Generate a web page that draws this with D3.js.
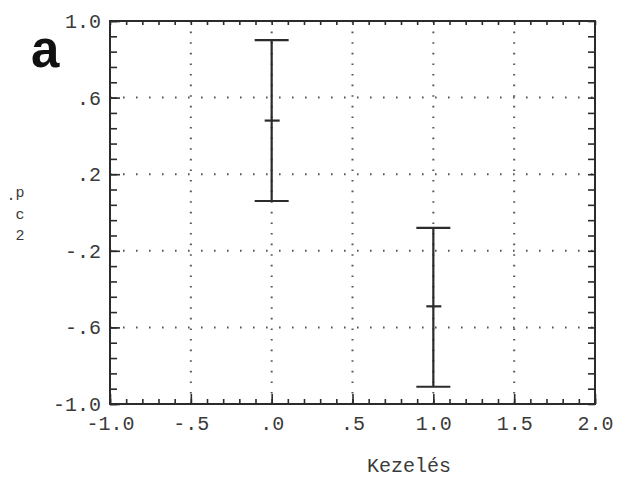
<!DOCTYPE html>
<html>
<head>
<meta charset="utf-8">
<script src="https://cdn.jsdelivr.net/npm/d3@7"></script>
<style>
  body { margin: 0; background: #fff; }
  .tick text { font-family: "Liberation Mono", "DejaVu Sans Mono", monospace; font-size: 20px; fill: #3a3a3a; }
</style>
</head>
<body>
<div id="chart"></div>
<script>
// error bar chart, panel a
var svgWidth = 622;
var svgHeight = 483;

var margin = { top: 21, right: 27, bottom: 79, left: 110 };
var width = svgWidth - margin.left - margin.right;
var height = svgHeight - margin.top - margin.bottom;

// data
var groups = [0, 1];
var means = [0.48, -0.49];
var upper = [0.90, -0.08];
var lower = [0.06, -0.91];

var xTicks = [-1.0, -0.5, 0.0, 0.5, 1.0, 1.5, 2.0];
var xTickLabels = ["-1.0", "-.5", ".0", ".5", "1.0", "1.5", "2.0"];
var yTicks = [1.0, 0.6, 0.2, -0.2, -0.6, -1.0];
var yTickLabels = ["1.0", ".6", ".2", "-.2", "-.6", "-1.0"];

var ink = "#2b2b2b";

var svg = d3.select("#chart")
  .append("svg")
  .attr("width", svgWidth)
  .attr("height", svgHeight);

var chartGroup = svg.append("g")
  .attr("transform", `translate(${margin.left}, ${margin.top})`);

var x = d3.scaleLinear().domain([-1, 2]).range([0, width]);
var y = d3.scaleLinear().domain([-1, 1]).range([height, 0]);

// dotted grid
var gridGroup = chartGroup.append("g");
gridGroup.selectAll("line.hgrid")
  .data(yTicks.filter(d => d > -1 && d < 1))
  .join("line")
  .attr("x1", 0).attr("x2", width)
  .attr("y1", d => y(d)).attr("y2", d => y(d))
  .attr("stroke", "#555")
  .attr("stroke-width", 2)
  .attr("stroke-dasharray", "1.6,11.4");

gridGroup.selectAll("line.vgrid")
  .data(xTicks.filter(d => d > -1 && d < 2))
  .join("line")
  .attr("x1", d => x(d)).attr("x2", d => x(d))
  .attr("y1", 0).attr("y2", height)
  .attr("stroke", "#555")
  .attr("stroke-width", 2)
  .attr("stroke-dasharray", "1.6,9");

// minor ticks
var xMinor = d3.range(-1, 2.001, 0.1);
var yMinor = d3.range(-1, 1.001, 0.08);

function minorAxis(axis, vals, size) {
  return axis.tickValues(vals).tickSize(size).tickFormat("");
}

chartGroup.append("g")
  .attr("transform", `translate(0, ${height})`)
  .call(minorAxis(d3.axisBottom(x), xMinor, -5));
chartGroup.append("g")
  .call(minorAxis(d3.axisTop(x), xMinor, -4));
chartGroup.append("g")
  .call(minorAxis(d3.axisLeft(y), yMinor, -7));
chartGroup.append("g")
  .attr("transform", `translate(${width}, 0)`)
  .call(minorAxis(d3.axisRight(y), yMinor, -7));

// major axes with labels
var bottomAxis = d3.axisBottom(x)
  .tickValues(xTicks)
  .tickSize(-10)
  .tickPadding(12)
  .tickFormat((d, i) => xTickLabels[i]);
var leftAxis = d3.axisLeft(y)
  .tickValues(yTicks)
  .tickSize(-10)
  .tickPadding(9)
  .tickFormat((d, i) => yTickLabels[i]);

chartGroup.append("g")
  .attr("transform", `translate(0, ${height})`)
  .call(bottomAxis);
chartGroup.append("g")
  .call(leftAxis);

chartGroup.selectAll(".domain").remove();
chartGroup.selectAll(".tick line")
  .attr("stroke", ink)
  .attr("stroke-width", 1.6);

// frame
chartGroup.append("rect")
  .attr("x", 0).attr("y", 0)
  .attr("width", width).attr("height", height)
  .attr("fill", "none")
  .attr("stroke", ink)
  .attr("stroke-width", 2);

// error bars
var bars = chartGroup.append("g")
  .selectAll("g")
  .data(groups)
  .join("g")
  .attr("stroke", ink)
  .attr("stroke-width", 2.2);

bars.append("line")
  .attr("x1", d => x(d)).attr("x2", d => x(d))
  .attr("y1", (d, i) => y(upper[i])).attr("y2", (d, i) => y(lower[i]));
bars.append("line")
  .attr("x1", d => x(d) - 17).attr("x2", d => x(d) + 17)
  .attr("y1", (d, i) => y(upper[i])).attr("y2", (d, i) => y(upper[i]));
bars.append("line")
  .attr("x1", d => x(d) - 17).attr("x2", d => x(d) + 17)
  .attr("y1", (d, i) => y(lower[i])).attr("y2", (d, i) => y(lower[i]));
bars.append("line")
  .attr("x1", d => x(d) - 7).attr("x2", d => x(d) + 8)
  .attr("y1", (d, i) => y(means[i])).attr("y2", (d, i) => y(means[i]));

// x label
svg.append("text")
  .attr("x", margin.left + x(0.85))
  .attr("y", 472)
  .attr("text-anchor", "middle")
  .style("font-family", "Liberation Mono, DejaVu Sans Mono, monospace")
  .style("font-size", "20px")
  .attr("fill", "#3a3a3a")
  .text("Kezelés");

// y label (stacked characters)
var yChars = ["p", ".", "c", "2"];
var yCharPos = [[20, 197], [11, 200], [20, 219], [20, 240]];
svg.append("g")
  .selectAll("text")
  .data(yChars)
  .join("text")
  .attr("x", (d, i) => yCharPos[i][0])
  .attr("y", (d, i) => yCharPos[i][1])
  .attr("text-anchor", "middle")
  .style("font-family", "Liberation Mono, DejaVu Sans Mono, monospace")
  .style("font-size", "15px")
  .attr("fill", "#3a3a3a")
  .text(d => d);

// panel letter
svg.append("text")
  .attr("x", 31)
  .attr("y", 67)
  .style("font-family", "Liberation Sans, Arial, sans-serif")
  .style("font-weight", "bold")
  .style("font-size", "51px")
  .attr("fill", "#111")
  .text("a");
</script>
</body>
</html>
